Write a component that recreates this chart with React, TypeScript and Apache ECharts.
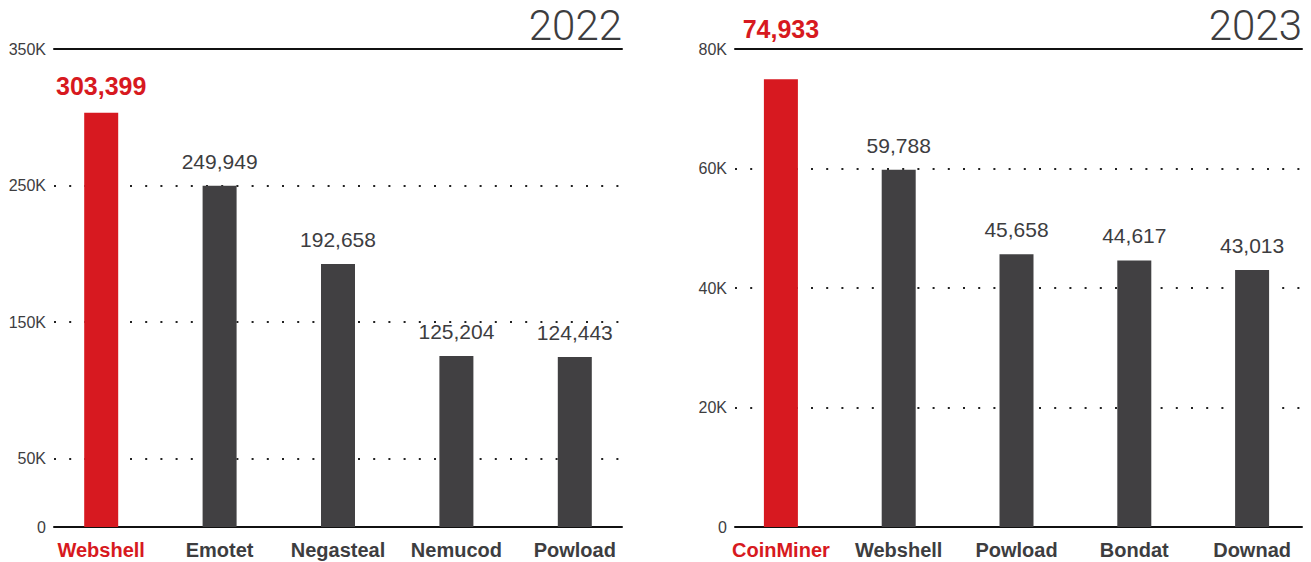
import React, { useEffect, useRef } from 'react';
import * as echarts from 'echarts';

const cats2022 = ['Webshell', 'Emotet', 'Negasteal', 'Nemucod', 'Powload'];
const vals2022 = [303399, 249949, 192658, 125204, 124443];
const cats2023 = ['CoinMiner', 'Webshell', 'Powload', 'Bondat', 'Downad'];
const vals2023 = [74933, 59788, 45658, 44617, 43013];
const labelTicks2022 = [0, 50000, 150000, 250000, 350000];
const gridTicks2022 = [50000, 150000, 250000];
const labelTicks2023 = [0, 20000, 40000, 60000, 80000];
const gridTicks2023 = [20000, 40000, 60000];
const max2022 = 350000;
const max2023 = 80000;
const years = ['2022', '2023'];

const RED = '#D71920';
const GRAY = '#414042';
const TEXT = '#3d3d3f';
const FONT = 'Liberation Sans';

const fmtK = (v: number) => (v === 0 ? '0' : v / 1000 + 'K');
const fmtN = (v: number) => v.toLocaleString('en-US');

function buildOption() {
  const panels = [
    { cats: cats2022, vals: vals2022, labelTicks: labelTicks2022, gridTicks: gridTicks2022, max: max2022, barLeft: 42, barWidth: 592, lineLeft: 54, lineWidth: 568, yearRight: 689, firstDist: 14 },
    { cats: cats2023, vals: vals2023, labelTicks: labelTicks2023, gridTicks: gridTicks2023, max: max2023, barLeft: 722, barWidth: 594, lineLeft: 735, lineWidth: 567, yearRight: 9, firstDist: 38 },
  ];
  const top = 49;
  const height = 478;
  const grid: any[] = [];
  const xAxis: any[] = [];
  const yAxis: any[] = [];
  const series: any[] = [];
  const title: any[] = [];
  panels.forEach((p, i) => {
    const gBar = grid.length;
    grid.push({ left: p.barLeft, width: p.barWidth, top, height });
    const gLine = grid.length;
    grid.push({ left: p.lineLeft, width: p.lineWidth, top, height });

    const xBar = xAxis.length;
    xAxis.push({
      type: 'category',
      gridIndex: gBar,
      data: p.cats.map((c, j) => ({ value: c, textStyle: { color: j === 0 ? RED : TEXT } })),
      axisLine: { show: false },
      axisTick: { show: false },
      axisLabel: { fontSize: 20, fontWeight: 'bold', fontFamily: FONT, margin: 13, interval: 0 },
    });
    xAxis.push({
      type: 'category',
      gridIndex: gLine,
      position: 'bottom',
      data: p.cats,
      axisLine: { show: true, lineStyle: { color: '#111', width: 2 } },
      axisTick: { show: false },
      axisLabel: { show: false },
    });
    xAxis.push({
      type: 'category',
      gridIndex: gLine,
      position: 'top',
      data: p.cats,
      axisLine: { show: true, lineStyle: { color: '#111', width: 2 } },
      axisTick: { show: false },
      axisLabel: { show: false },
    });

    const yBar = yAxis.length;
    yAxis.push({
      type: 'value',
      gridIndex: gBar,
      min: 0,
      max: p.max,
      axisLine: { show: false },
      axisTick: { show: false },
      axisLabel: { show: false },
      splitLine: { show: false },
    });
    yAxis.push({
      type: 'value',
      gridIndex: gLine,
      min: 0,
      max: p.max,
      axisLine: { show: false },
      axisTick: { show: false, customValues: p.gridTicks },
      axisLabel: {
        customValues: p.labelTicks,
        formatter: (v: number) => fmtK(v),
        fontSize: 16,
        fontFamily: FONT,
        color: TEXT,
        margin: 8,
      },
      splitLine: { show: true, lineStyle: { color: '#222', width: 2, type: [2, 13.2] } },
    });

    series.push({
      type: 'bar',
      xAxisIndex: xBar,
      yAxisIndex: yBar,
      barWidth: 34,
      data: p.vals.map((v, j) => ({
        value: v,
        itemStyle: { color: j === 0 ? RED : GRAY },
        label: j === 0 ? { color: RED, fontSize: 25, fontWeight: 'bold', distance: p.firstDist } : undefined,
      })),
      label: {
        show: true,
        position: 'top',
        distance: 14,
        fontSize: 21,
        fontFamily: FONT,
        color: TEXT,
        formatter: (d: any) => fmtN(d.value),
      },
      z: 3,
    });

    title.push({
      text: years[i],
      right: p.yearRight,
      top: 4,
      textStyle: { fontSize: 42, fontWeight: 300, fontFamily: 'Roboto', color: TEXT },
      padding: 0,
    });
  });
  return { animation: false, backgroundColor: '#fff', grid, xAxis, yAxis, series, title };
}

export default function App() {
  const ref = useRef<HTMLDivElement>(null);
  useEffect(() => {
    if (!ref.current) return;
    const chart = echarts.init(ref.current, null, { renderer: 'svg' });
    chart.setOption(buildOption());
    return () => chart.dispose();
  }, []);
  return <div ref={ref} style={{ position: 'fixed', left: 0, top: 0, width: 1311, height: 562, background: '#fff' }} />;
}
